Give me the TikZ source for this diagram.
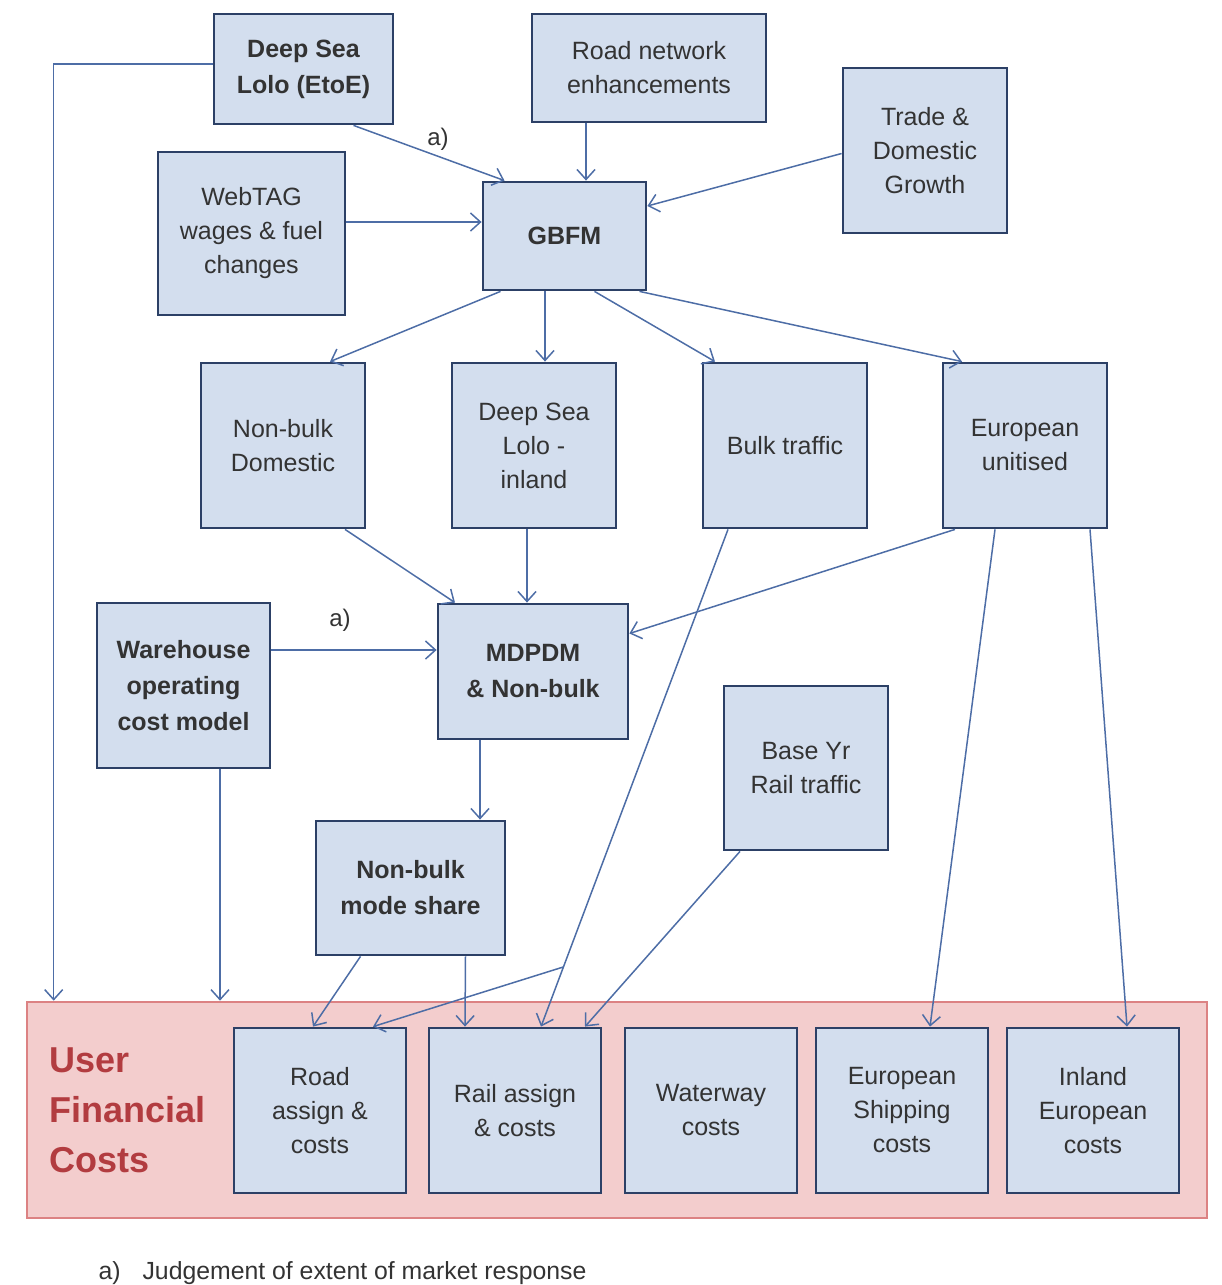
\documentclass[tikz,border=0pt]{standalone}
\usepackage{fontspec}
\setmainfont{Liberation Sans}
\usetikzlibrary{arrows.meta,calc}
\definecolor{boxfill}{HTML}{D3DEEE}
\definecolor{boxline}{HTML}{2C4066}
\definecolor{arrowc}{HTML}{4D6DA6}
\definecolor{redfill}{HTML}{F3CDCD}
\definecolor{redline}{HTML}{DC8283}
\definecolor{redtext}{HTML}{B23C40}
\definecolor{txt}{HTML}{333333}
\tikzset{
  model/.style={draw=boxline, fill=boxfill, line width=2.8pt, align=center,
    text=txt, font=\fontsize{25}{34}\selectfont, inner sep=0pt},
  boldmodel/.style={model, font=\fontsize{25}{36}\selectfont\bfseries},
  flow/.style={draw=arrowc, line width=1.5pt,
    -{Straight Barb[length=10pt,width=18pt,line width=1.5pt]}},
  note/.style={text=txt, font=\fontsize{24}{28}\selectfont}
}
\begin{document}
\begin{tikzpicture}[x=1pt,y=-1pt]
\useasboundingbox (0,0) rectangle (1221,1285);

% outer group of cost models
\node[draw=redline, fill=redfill, line width=2.6pt, minimum width=1180pt,
  minimum height=216pt, inner sep=0pt] (ufc) at (617,1110) {};
\node[text=redtext, font=\fontsize{36}{50}\selectfont\bfseries, align=left,
  anchor=west] (ufclabel) at (46,1110) {User\\Financial\\Costs};

% input and model boxes
\node[boldmodel, minimum width=179pt, minimum height=110pt] (dsl) at (303.5,69) {Deep Sea\\Lolo (EtoE)};
\node[model, minimum width=234pt, minimum height=108pt] (rne) at (649,68) {Road network\\enhancements};
\node[model, minimum width=164pt, minimum height=165pt] (trade) at (925,150.5) {Trade \&\\Domestic\\Growth};
\node[model, minimum width=187pt, minimum height=163pt] (webtag) at (251.5,233.5) {WebTAG\\wages \& fuel\\changes};
\node[boldmodel, minimum width=163pt, minimum height=108pt] (gbfm) at (564.5,236) {GBFM};

\node[model, minimum width=164pt, minimum height=165pt] (nbd) at (283,445.5) {Non-bulk\\Domestic};
\node[model, minimum width=164pt, minimum height=165pt] (dsi) at (534,445.5) {Deep Sea\\Lolo -\\inland};
\node[model, minimum width=164pt, minimum height=165pt] (bulk) at (785,445.5) {Bulk traffic};
\node[model, minimum width=164pt, minimum height=165pt] (euro) at (1025,445.5) {European\\unitised};

\node[boldmodel, minimum width=173pt, minimum height=165pt] (wh) at (183.5,685.5) {Warehouse\\operating\\cost model};
\node[boldmodel, minimum width=190pt, minimum height=135pt] (mdpdm) at (533,671.5) {MDPDM\\\& Non-bulk};
\node[model, minimum width=164pt, minimum height=164pt] (base) at (806,768) {Base Yr\\Rail traffic};
\node[boldmodel, minimum width=189pt, minimum height=134pt] (nbms) at (410.5,888) {Non-bulk\\mode share};

% cost boxes
\node[model, minimum width=172pt, minimum height=165pt] (road) at (320,1110.5) {Road\\assign \&\\costs};
\node[model, minimum width=172pt, minimum height=165pt] (rail) at (515,1110.5) {Rail assign\\\& costs};
\node[model, minimum width=172pt, minimum height=165pt] (water) at (711,1110.5) {Waterway\\costs};
\node[model, minimum width=172pt, minimum height=165pt] (eship) at (902,1110.5) {European\\Shipping\\costs};
\node[model, minimum width=172pt, minimum height=165pt] (inland) at (1093,1110.5) {Inland\\European\\costs};

% flows into GBFM
\draw[flow] ([yshift=5pt]dsl.west) -| ([xshift=28pt]ufc.north west);
\draw[flow] ([xshift=50pt]dsl.south) -- ([xshift=-60pt]gbfm.north);
\node[note] (a1) at (438,139) {a)};
\draw[flow] ([xshift=-63pt]rne.south) -- ([xshift=21.5pt]gbfm.north);
\draw[flow] ([yshift=-3pt]trade.west) -- ([yshift=30pt]gbfm.east);
\draw[flow] ([yshift=11.5pt]webtag.east) -- ([yshift=14pt]gbfm.west);

% flows out of GBFM
\draw[flow] ([xshift=-64pt]gbfm.south) -- ([xshift=47pt]nbd.north);
\draw[flow] ([xshift=-19.5pt]gbfm.south) -- ([xshift=11pt]dsi.north);
\draw[flow] ([xshift=30pt]gbfm.south) -- ([xshift=-70pt]bulk.north);
\draw[flow] ([xshift=75pt]gbfm.south) -- ([xshift=-63pt]euro.north);

% flows into MDPDM
\draw[flow] ([xshift=62pt]nbd.south) -- ([xshift=-78pt]mdpdm.north);
\draw[flow] ([xshift=-7pt]dsi.south) -- ([xshift=-6pt]mdpdm.north);
\draw[flow] ([xshift=-70pt]euro.south) -- ([yshift=38pt]mdpdm.east);
\draw[flow] ([yshift=35.5pt]wh.east) -- ([yshift=21.5pt]mdpdm.west);
\node[note] (a2) at (340,620) {a)};
\draw[flow] ([xshift=36.5pt]wh.south) -- ([xshift=36.5pt]wh.south |- ufc.north);

% flows to the cost boxes
\draw[flow] ([xshift=-53pt]mdpdm.south) -- ([xshift=69.5pt]nbms.north);
\draw[flow] ([xshift=-50pt]nbms.south) -- ([xshift=-7pt]road.north);
\draw[flow] ([xshift=55pt]nbms.south) -- ([xshift=-50pt]rail.north);

\coordinate (bulkout) at ([xshift=-57pt]bulk.south);
\coordinate (railin) at ([xshift=26pt]rail.north);
\coordinate (split) at ($(bulkout)!0.88!(railin)$);
\draw[flow] (bulkout) -- (railin);
\draw[flow] (split) -- ([xshift=53pt]road.north);
\draw[flow] ([xshift=-66pt]base.south) -- ([xshift=70pt]rail.north);
\draw[flow] ([xshift=-30pt]euro.south) -- ([xshift=28pt]eship.north);
\draw[flow] ([xshift=65pt]euro.south) -- ([xshift=34pt]inland.north);

% footnote
\node[note, font=\fontsize{24.8}{28}\selectfont, anchor=base west] (fn) at (95,1279) {a)\hspace{22pt}Judgement of extent of market response};
\end{tikzpicture}
\end{document}
